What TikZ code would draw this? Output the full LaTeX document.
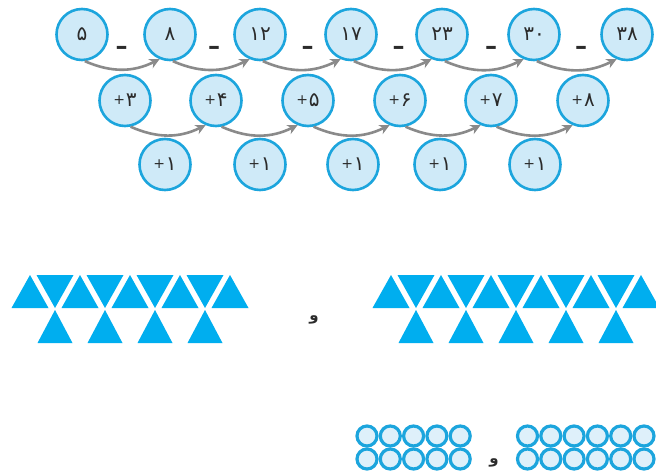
\documentclass[tikz,border=0pt]{standalone}
\usepackage{fontspec}
\newfontfamily\fa[Script=Arabic]{DejaVu Sans}
\newfontfamily\fn{DejaVu Sans}
\usetikzlibrary{arrows.meta}
\definecolor{cborder}{RGB}{28,165,221}
\definecolor{cfill}{RGB}{207,234,248}
\definecolor{rfill}{RGB}{222,240,250}
\definecolor{txt}{RGB}{43,43,43}
\definecolor{agray}{RGB}{138,138,138}
\definecolor{tblue}{RGB}{0,174,239}
\newcommand{\pls}{\raisebox{2pt}{\fontsize{14}{16}\selectfont +}\kern1pt}
\tikzset{
  numc/.style={circle, draw=cborder, fill=cfill, line width=2.6pt, minimum size=51pt, inner sep=0pt, text=txt, font=\fn\fontsize{20}{24}\selectfont},
  dashmark/.style={inner sep=0pt, anchor=base, text=txt, font=\fn\bfseries\fontsize{24}{26}\selectfont},
  vavmark/.style={inner sep=0pt, text=txt, font=\fa\bfseries\fontsize{15}{17}\selectfont},
  arr/.style={draw=agray, line width=2.6pt, -{Stealth[length=10pt,width=10pt]}, bend right=25},
  tri/.style={fill=tblue},
  ringfill/.style={fill=rfill},
  ringline/.style={draw=cborder, line width=3.2pt}
}
\begin{document}
\begin{tikzpicture}[x=1pt,y=1pt]
\useasboundingbox (0,0) rectangle (656,-476);
\fill[white] (0,0) rectangle (656,-476);
\clip (0,0) rectangle (656,-476);
% top row
\node[numc] (t1) at (82,-34.5) {۵};
\node[numc] (t2) at (170,-34.5) {۸};
\node[numc] (t3) at (260,-34.5) {۱۲};
\node[numc] (t4) at (351,-34.5) {۱۷};
\node[numc] (t5) at (442,-34.5) {۲۳};
\node[numc] (t6) at (534,-34.5) {۳۰};
\node[numc] (t7) at (627,-34.5) {۳۸};
% dashes
\node[dashmark] (d1) at (121.5,-55) {–};
\node[dashmark] (d2) at (214,-55) {–};
\node[dashmark] (d3) at (307.5,-55) {–};
\node[dashmark] (d4) at (398.5,-55) {–};
\node[dashmark] (d5) at (491,-55) {–};
\node[dashmark] (d6) at (581,-55) {–};
% middle row
\node[numc] (m1) at (125,-100.5) {\pls۳};
\node[numc] (m2) at (216,-100.5) {\pls۴};
\node[numc] (m3) at (308,-100.5) {\pls۵};
\node[numc] (m4) at (400,-100.5) {\pls۶};
\node[numc] (m5) at (491,-100.5) {\pls۷};
\node[numc] (m6) at (583,-100.5) {\pls۸};
% bottom row
\node[numc] (b1) at (165,-164.5) {\pls۱};
\node[numc] (b2) at (260,-164.5) {\pls۱};
\node[numc] (b3) at (353,-164.5) {\pls۱};
\node[numc] (b4) at (440,-164.5) {\pls۱};
\node[numc] (b5) at (535,-164.5) {\pls۱};
% arrows
\draw[arr] (t1.-84) to (t2.-113);
\draw[arr] (t2.-84) to (t3.-113);
\draw[arr] (t3.-84) to (t4.-113);
\draw[arr] (t4.-84) to (t5.-113);
\draw[arr] (t5.-84) to (t6.-113);
\draw[arr] (t6.-84) to (t7.-113);
\draw[arr] (m1.-78) to (m2.-113);
\draw[arr] (m2.-78) to (m3.-113);
\draw[arr] (m3.-78) to (m4.-113);
\draw[arr] (m4.-78) to (m5.-113);
\draw[arr] (m5.-78) to (m6.-113);
% triangles left group
\foreach \c in {30,80,130,180,230}
  \fill[tri] ({\c-18.5},-308) -- (\c,-275) -- ({\c+18.5},-308) -- cycle;
\foreach \c in {55,105,155,205} {
  \fill[tri] ({\c-18.5},-275) -- ({\c+18.5},-275) -- (\c,-308) -- cycle;
  \fill[tri] ({\c-17.5},-343) -- (\c,-310) -- ({\c+17.5},-343) -- cycle;
}
% triangles right group
\foreach \c in {391,441,491,541,591,641}
  \fill[tri] ({\c-18.5},-308) -- (\c,-275) -- ({\c+18.5},-308) -- cycle;
\foreach \c in {416,466,516,566,616} {
  \fill[tri] ({\c-18.5},-275) -- ({\c+18.5},-275) -- (\c,-308) -- cycle;
  \fill[tri] ({\c-17.5},-343) -- (\c,-310) -- ({\c+17.5},-343) -- cycle;
}
\node[vavmark] (v1) at (314,-319.5) {و};
% rings
\foreach \x in {367,390.3,413.6,436.9,460.2,527.5,550.8,574.1,597.4,620.7,644}
  \foreach \y in {436,459}
    \fill[ringfill] (\x,-\y) circle [radius=10];
\foreach \x in {367,390.3,413.6,436.9,460.2,527.5,550.8,574.1,597.4,620.7,644}
  \foreach \y in {436,459}
    \draw[ringline] (\x,-\y) circle [radius=10];
\node[vavmark] (v2) at (494,-463) {و};
\end{tikzpicture}
\end{document}
